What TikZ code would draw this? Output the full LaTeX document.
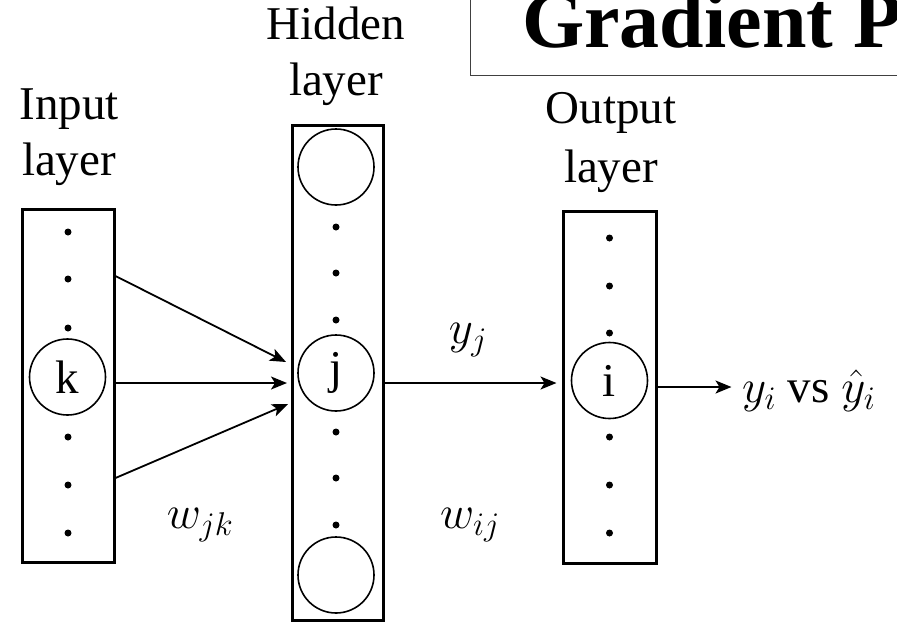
\RequirePackage{fix-cm}
\documentclass[tikz,border=0pt]{standalone}
\usepackage{fontspec}
\setmainfont{Liberation Serif}
\usetikzlibrary{arrows.meta,calc}

\begin{document}
\begin{tikzpicture}[
		x=1pt, y=-1pt,
		font=\fontsize{47}{56}\selectfont,
		>={Stealth[length=16pt,width=13pt,inset=4pt]},
		layerbox/.style={draw, line width=3pt, inner sep=0pt},
		unit/.style={circle, draw, line width=1.6pt, minimum size=76pt, inner sep=0pt},
		dotnode/.style={circle, fill=black, inner sep=0pt, minimum size=7pt},
		arr/.style={->, line width=1.8pt},
		lbl/.style={align=center, anchor=base}
		]
		\useasboundingbox (0,0) rectangle (897,641);
		\clip (0,0) rectangle (897,641);
		
		% title box (cut off by the page)
		\draw[black!75, line width=1pt] (470,-10) -- (470,75) -- (910,75);
		\node[font=\fontsize{80}{80}\selectfont\bfseries, anchor=base west, inner sep=0pt] (title) at (522,47) {Gradient P};
		
		% layer boxes
		\node[layerbox, minimum width=92pt, minimum height=353pt] (inbox) at (68,385.5) {};
		\node[layerbox, minimum width=91pt, minimum height=495pt] (hidbox) at (337.5,372.5) {};
		\node[layerbox, minimum width=93pt, minimum height=352pt] (outbox) at (609.5,387) {};
		
		% layer labels (anchored at the baseline of the last line)
		\node[lbl] (inlbl) at (69,175) {Input\\layer};
		\node[lbl] (hidlbl) at (336,95) {Hidden\\layer};
		\node[lbl, font=\fontsize{47}{59}\selectfont] (outlbl) at (611,182) {Output\\layer};
		
		% units
		\node[unit] (k) at (67.5,377) {k};
		\node[unit] (htop) at (336,167) {};
		\node[unit] (j) at (336,373) {\raisebox{-6pt}{j}};
		\node[unit] (hbot) at (336,575) {};
		\node[unit] (i) at (609.5,380.5) {i};
		
		% dots
		\foreach \y in {232,279,328,437,485,533}
		\node[dotnode] (in-\y) at (68,\y) {};
		\foreach \y in {227,273,320,432,478,525}
		\node[dotnode] (hid-\y) at (336,\y) {};
		\foreach \y in {238,286,333,437,485,533}
		\node[dotnode] (out-\y) at (609.5,\y) {};
		
		% connections
		\coordinate (jin1) at (286,362);
		\coordinate (jin2) at (287,383);
		\coordinate (jin3) at (288,404);
		\draw[arr] ($(inbox.east)+(0,-109.5)$) -- (jin1);
		\draw[arr] ($(inbox.east)+(0,-2.5)$) -- (jin2);
		\draw[arr] ($(inbox.east)+(0,92.5)$) -- (jin3);
		\draw[arr] ($(hidbox.east)+(0,10.5)$) -- ($(outbox.west)+(-5,-4)$);
		\draw[arr] (outbox.east) -- ++(74,0) coordinate (yout);
		
		% labels
		\node (yj) at (468,340) {$y_j$};
		\node (wjk) at (200,525) {$w_{jk}$};
		\node (wij) at (470,525) {$w_{ij}$};
		\node[anchor=base west, inner sep=0pt] (yvs) at (742,402) {$y_i$ vs $\hat{y}_i$};
		
	\end{tikzpicture}
\end{document}
